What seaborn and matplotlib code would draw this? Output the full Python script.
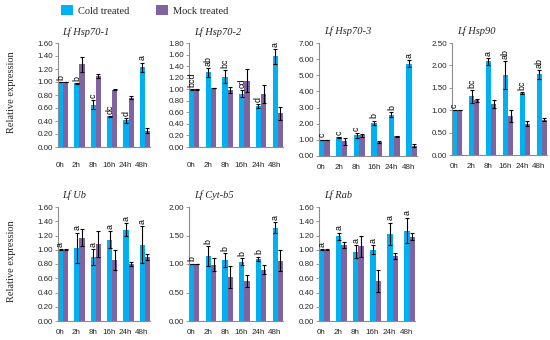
import matplotlib
matplotlib.use("Agg")
import matplotlib.pyplot as plt
import matplotlib.transforms as mtransforms
import seaborn as sns
import pandas as pd
from matplotlib.ticker import MultipleLocator, FormatStrFormatter

# ---------------- data ----------------
times = ["0h", "2h", "8h", "16h", "24h", "48h"]
treatments = ["Cold treated", "Mock treated"]

hsp70_1_cold = [1.00, 0.98, 0.65, 0.47, 0.41, 1.23]
hsp70_1_cold_err = [0.005, 0.01, 0.07, 0.01, 0.04, 0.07]
hsp70_1_mock = [1.00, 1.27, 1.09, 0.88, 0.76, 0.25]
hsp70_1_mock_err = [0.005, 0.11, 0.03, 0.005, 0.02, 0.04]
hsp70_1_letters = ["b", "b", "c", "dc", "d", "a"]

hsp70_2_cold = [1.00, 1.29, 1.22, 0.92, 0.71, 1.57]
hsp70_2_cold_err = [0.005, 0.07, 0.11, 0.06, 0.04, 0.13]
hsp70_2_mock = [1.00, 1.02, 0.99, 1.15, 0.92, 0.58]
hsp70_2_mock_err = [0.005, 0.005, 0.05, 0.20, 0.15, 0.11]
hsp70_2_letters = ["bcd", "ab", "bc", "cd", "d", "a"]

hsp70_3_cold = [1.00, 1.15, 1.28, 2.07, 2.57, 5.73]
hsp70_3_cold_err = [0.01, 0.03, 0.15, 0.12, 0.13, 0.20]
hsp70_3_mock = [1.00, 0.90, 1.27, 0.88, 1.23, 0.65]
hsp70_3_mock_err = [0.01, 0.20, 0.08, 0.05, 0.03, 0.08]
hsp70_3_letters = ["c", "c", "c", "b", "b", "a"]

hsp90_cold = [1.00, 1.31, 2.09, 1.78, 1.38, 1.80]
hsp90_cold_err = [0.005, 0.14, 0.07, 0.31, 0.02, 0.10]
hsp90_mock = [1.00, 1.22, 1.13, 0.87, 0.70, 0.79]
hsp90_mock_err = [0.005, 0.03, 0.09, 0.14, 0.05, 0.03]
hsp90_letters = ["c", "bc", "a", "ab", "bc", "ab"]

ub_cold = [1.00, 1.03, 0.90, 1.14, 1.28, 1.07]
ub_cold_err = [0.005, 0.21, 0.11, 0.12, 0.09, 0.26]
ub_mock = [1.00, 1.17, 1.08, 0.85, 0.80, 0.90]
ub_mock_err = [0.005, 0.12, 0.18, 0.14, 0.03, 0.04]
ub_letters = ["a", "a", "a", "a", "a", "a"]

cytb5_cold = [1.00, 1.14, 1.07, 1.04, 1.09, 1.64]
cytb5_cold_err = [0.005, 0.17, 0.12, 0.06, 0.04, 0.10]
cytb5_mock = [1.00, 0.99, 0.77, 0.70, 0.90, 1.06]
cytb5_mock_err = [0.005, 0.11, 0.19, 0.10, 0.08, 0.19]
cytb5_letters = ["b", "b", "b", "b", "b", "a"]

rab_cold = [1.00, 1.19, 0.97, 1.00, 1.22, 1.27]
rab_cold_err = [0.005, 0.05, 0.09, 0.06, 0.16, 0.18]
rab_mock = [1.00, 1.07, 1.05, 0.56, 0.91, 1.18]
rab_mock_err = [0.005, 0.04, 0.15, 0.15, 0.04, 0.05]
rab_letters = ["a", "a", "a", "a", "a", "a"]

titles = ["Lf Hsp70-1", "Lf Hsp70-2", "Lf Hsp70-3", "Lf Hsp90",
          "Lf Ub", "Lf Cyt-b5", "Lf Rab"]
y_max = [1.6, 1.8, 7.0, 2.5, 1.6, 2.0, 1.6]
y_step = [0.2, 0.2, 1.0, 0.5, 0.2, 0.5, 0.2]

panels = [
    (hsp70_1_cold, hsp70_1_cold_err, hsp70_1_mock, hsp70_1_mock_err, hsp70_1_letters),
    (hsp70_2_cold, hsp70_2_cold_err, hsp70_2_mock, hsp70_2_mock_err, hsp70_2_letters),
    (hsp70_3_cold, hsp70_3_cold_err, hsp70_3_mock, hsp70_3_mock_err, hsp70_3_letters),
    (hsp90_cold, hsp90_cold_err, hsp90_mock, hsp90_mock_err, hsp90_letters),
    (ub_cold, ub_cold_err, ub_mock, ub_mock_err, ub_letters),
    (cytb5_cold, cytb5_cold_err, cytb5_mock, cytb5_mock_err, cytb5_letters),
    (rab_cold, rab_cold_err, rab_mock, rab_mock_err, rab_letters),
]

# ---------------- style ----------------
sns.set_style("ticks")
plt.rcParams["font.family"] = ["Liberation Sans", "DejaVu Sans"]
palette = {"Cold treated": "#00B0F0", "Mock treated": "#8064A2"}
SERIF = ["Liberation Serif", "DejaVu Serif"]

W, H = 550, 340
fig = plt.figure(figsize=(W / 100, H / 100), dpi=100)

# axes boxes in pixels: left, right, top, bottom
boxes = [
    (58, 150, 43, 147),
    (189, 283, 43, 147),
    (319, 417, 43, 156),
    (452, 547, 43, 155),
    (58, 150, 207, 321),
    (189, 283, 207, 321),
    (319, 415, 207, 321),
]
xpads = [10.5, 10.5, 5.5, 5.5, 5.5, 5.5, 5.5]

BAR_W = 0.62
axes = []
for i, (box, pdata) in enumerate(zip(boxes, panels)):
    l, r, t, b = box
    ax = fig.add_axes([l / W, (H - b) / H, (r - l) / W, (b - t) / H])
    axes.append(ax)
    cold, cold_err, mock, mock_err, letters = pdata
    df = pd.DataFrame({
        "time": times * 2,
        "treatment": [treatments[0]] * len(times) + [treatments[1]] * len(times),
        "value": cold + mock,
    })
    sns.barplot(data=df, x="time", y="value", hue="treatment", order=times,
                hue_order=treatments, palette=palette, errorbar=None,
                width=BAR_W, gap=0, saturation=1, linewidth=0, ax=ax,
                legend=(i == 0))
    errs = [cold_err, mock_err]
    for cont, err in zip(ax.containers, errs):
        xs = [p.get_x() + p.get_width() / 2 for p in cont.patches]
        ys = [p.get_height() for p in cont.patches]
        ax.errorbar(xs, ys, yerr=err, fmt="none", ecolor="black",
                    elinewidth=0.8, capsize=1.6, capthick=0.8, zorder=5)
    # significance letters above cold bars
    cold_cont = ax.containers[0]
    ymx = y_max[i]
    for p, e, letter in zip(cold_cont.patches, cold_err, letters):
        x = p.get_x() + p.get_width() / 2
        y = p.get_height() + e + ymx * 0.02
        ax.text(x, y, letter, rotation=90, ha="center", va="bottom",
                fontsize=6.4, color="black")
    ax.set_xlim(-BAR_W / 2, len(times) - 1 + BAR_W / 2)
    ax.set_ylim(0, ymx)
    ax.yaxis.set_major_locator(MultipleLocator(y_step[i]))
    ax.yaxis.set_major_formatter(FormatStrFormatter("%.2f"))
    ax.set_xlabel("")
    ax.set_ylabel("")
    for s in ["top", "right"]:
        ax.spines[s].set_visible(False)
    for s in ["left", "bottom"]:
        ax.spines[s].set_color("#8c8c8c")
        ax.spines[s].set_linewidth(0.8)
    ax.tick_params(axis="y", labelsize=5.8, length=2, width=0.6,
                   color="#8c8c8c", pad=1.5)
    ax.tick_params(axis="x", labelsize=5.8, length=0, pad=xpads[i])
    shift = mtransforms.ScaledTranslation(-3 / 100, 0, fig.dpi_scale_trans)
    for lab in ax.get_xticklabels():
        lab.set_transform(lab.get_transform() + shift)
    ax.text(0.05, 1.06, titles[i], transform=ax.transAxes, ha="left",
            va="bottom", fontsize=7.5, style="italic", family=SERIF)

# legend
handles, labels = axes[0].get_legend_handles_labels()
axes[0].get_legend().remove()
fig.legend(handles, labels, ncol=2, frameon=False, loc="upper left",
           bbox_to_anchor=(55 / W, 1.0 + 1 / H), prop={"family": SERIF, "size": 7.5},
           handlelength=1.1, handleheight=1.1, handletextpad=0.5,
           columnspacing=2.6, borderaxespad=0.2)

# y labels
fig.text(12 / W, 1 - 92 / H, "Relative expression", rotation=90,
         ha="center", va="center", fontsize=7.5, family=SERIF)
fig.text(12 / W, 1 - 261 / H, "Relative expression", rotation=90,
         ha="center", va="center", fontsize=7.5, family=SERIF)

fig.savefig("out.png", dpi=100)
